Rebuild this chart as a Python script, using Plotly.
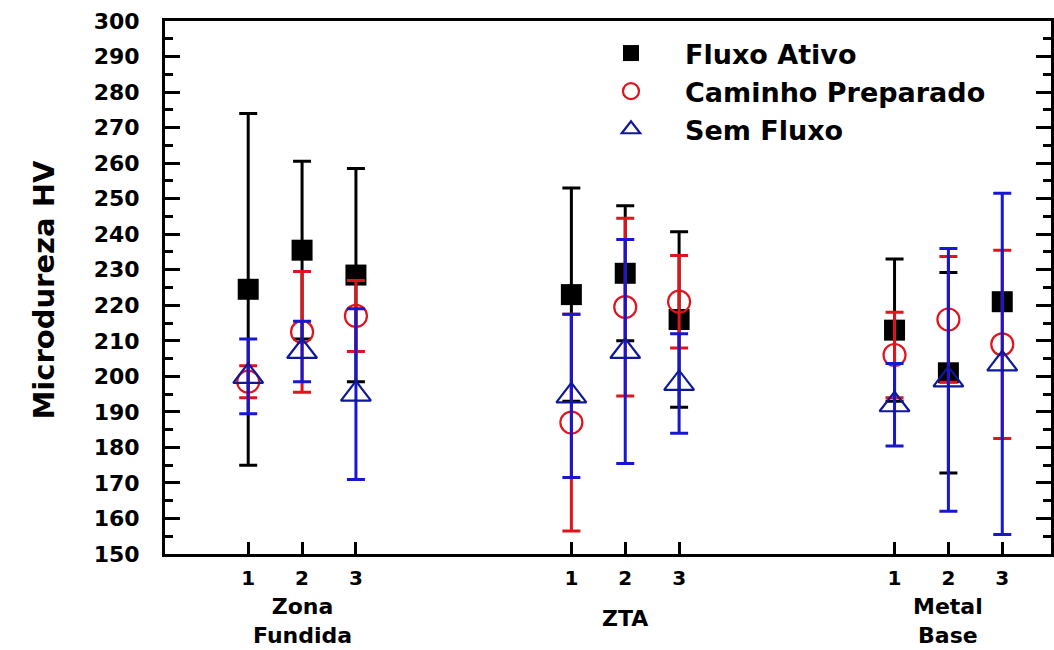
import plotly.graph_objects as go

# x positions of the samples (three groups of three)
x_pos = [1, 2, 3, 7, 8, 9, 13, 14, 15]
tick_text = ["1", "2", "3", "1", "2", "3", "1", "2", "3"]
group_pos = [2, 8, 14]
group_names = ["Zona<br>Fundida", "ZTA", "Metal<br>Base"]

# Fluxo Ativo
fa_mean = [224.5, 235.5, 228.5, 223, 229, 216, 213, 201, 221]
fa_err = [49.5, 25, 30, 30, 19, 24.7, 20, 28.2, 2]
# Caminho Preparado
cp_mean = [198.5, 212.5, 217, 187, 219.5, 221, 206, 216, 209]
cp_err = [4.5, 17, 10, 30.5, 25, 13, 12, 17.7, 26.5]
# Sem Fluxo
sf_mean = [200, 207, 195, 194.5, 207, 198, 192, 199, 203.5]
sf_err = [10.5, 8.5, 24, 23, 31.5, 14, 11.6, 37, 48]

series_names = ["Fluxo Ativo", "Caminho Preparado", "Sem Fluxo"]

BLACK = "#000000"
RED = "#e0141c"
BLUE = "#1717d0"
FONT = "DejaVu Sans"

fig = go.Figure()

fig.add_trace(go.Scatter(
    x=x_pos, y=fa_mean, mode="markers", name=series_names[0],
    marker=dict(symbol="square", size=21, color=BLACK),
    error_y=dict(type="data", array=fa_err, visible=True, color=BLACK, thickness=3, width=9),
    legendgroup="a",
))
fig.add_trace(go.Scatter(
    x=x_pos, y=cp_mean, mode="markers", name=series_names[1],
    marker=dict(symbol="circle-open", size=22, color=RED, line=dict(width=2.2, color=RED)),
    error_y=dict(type="data", array=cp_err, visible=True, color=RED, thickness=3, width=9),
    legendgroup="b",
))
fig.add_trace(go.Scatter(
    x=x_pos, y=sf_mean, mode="markers", name=series_names[2],
    marker=dict(symbol="triangle-up-open", size=26, color="#10189a", line=dict(width=2.2, color="#10189a")),
    error_y=dict(type="data", array=sf_err, visible=True, color=BLUE, thickness=3, width=9),
    legendgroup="c",
))

group_shift = [-67, -64, -67]
annotations = []
for gx, gname, gs in zip(group_pos, group_names, group_shift):
    annotations.append(dict(
        x=gx, y=0, xref="x", yref="paper", text="<b>" + gname + "</b>",
        showarrow=False, yanchor="middle", xanchor="center", yshift=gs,
        font=dict(family=FONT, size=22, color=BLACK),
    ))
annotations.append(dict(
    x=0, y=0.5, xref="paper", yref="paper", text="<b>Microdureza HV</b>",
    textangle=-90, showarrow=False, xanchor="center", yanchor="middle",
    xshift=-122, yshift=-3,
    font=dict(family=FONT, size=29, color=BLACK),
))

fig.update_layout(
    width=1054, height=650,
    margin=dict(l=165, r=3, t=21, b=96, autoexpand=False),
    paper_bgcolor="white", plot_bgcolor="white",
    showlegend=True,
    legend=dict(
        x=0.465, y=0.985, xanchor="left", yanchor="top",
        font=dict(family=FONT, size=27, color=BLACK, weight="bold"),
        bgcolor="rgba(0,0,0,0)", tracegroupgap=0, itemwidth=98,
    ),
    annotations=annotations,
    xaxis=dict(
        range=[-0.545, 15.905], tickmode="array", tickvals=x_pos, ticktext=tick_text,
        ticks="inside", ticklen=12, tickwidth=3, tickcolor=BLACK,
        showline=True, linewidth=3, linecolor=BLACK, mirror=True,
        showgrid=False, zeroline=False, automargin=False,
        tickfont=dict(family=FONT, size=20, color=BLACK, weight="bold"),
        ticklabelstandoff=4,
    ),
    yaxis=dict(
        range=[150, 300], dtick=10, tick0=150,
        ticks="inside", ticklen=15, tickwidth=3, tickcolor=BLACK,
        minor=dict(dtick=5, ticks="inside", ticklen=8, tickwidth=3, tickcolor=BLACK, showgrid=False),
        showline=True, linewidth=3, linecolor=BLACK, mirror="ticks",
        showgrid=False, zeroline=False, automargin=False,
        tickfont=dict(family=FONT, size=22, color=BLACK, weight="bold"),
        ticklabelstandoff=18,
    ),
)

fig.write_html(
    "out.html",
    config={"displayModeBar": False},
    post_script="document.body.style.margin='0';document.body.style.overflow='hidden';",
)
